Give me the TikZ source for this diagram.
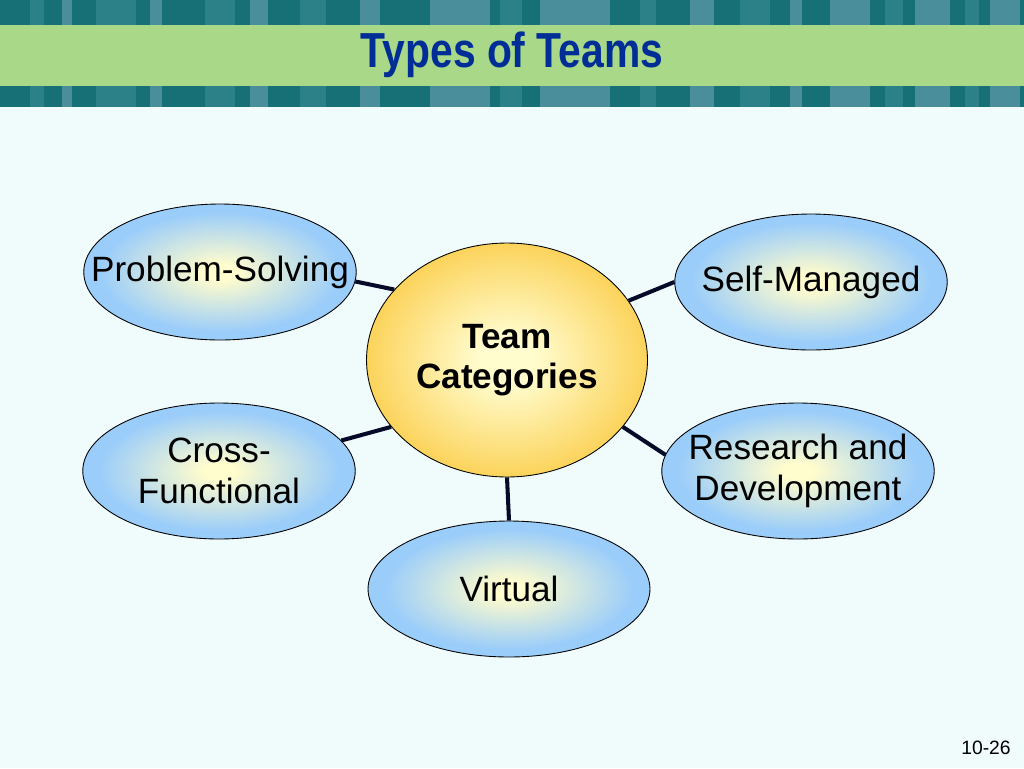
\documentclass[tikz,border=0pt]{standalone}
\usepackage{fontspec}
\setmainfont{Liberation Sans}
\usetikzlibrary{shapes}
\definecolor{paper}{RGB}{240,252,252}
\definecolor{bandgreen}{RGB}{168,216,136}
\definecolor{titleblue}{RGB}{0,45,150}
\definecolor{tealdark}{RGB}{22,112,118}
\definecolor{tealmid}{RGB}{60,140,148}
\definecolor{teallight}{RGB}{110,162,182}
\definecolor{skyblue}{RGB}{155,205,250}
\definecolor{paleyellow}{RGB}{255,252,205}
\definecolor{gold}{RGB}{250,193,40}
\definecolor{navy}{RGB}{5,10,40}
\pgfdeclareradialshading{skyglow}{\pgfpoint{0bp}{0bp}}{color(0bp)=(paleyellow); color(3bp)=(paleyellow); color(22bp)=(skyblue); color(50bp)=(skyblue)}
\pgfdeclareradialshading{sunglow}{\pgfpoint{0bp}{0bp}}{color(0bp)=(paleyellow); color(5bp)=(paleyellow); color(34bp)=(gold); color(50bp)=(gold)}

\begin{document}
\begin{tikzpicture}[x=0.02cm, y=-0.02cm]
	  \tikzstyle{team} = [ellipse, draw=black, line width=0.5pt, shading=skyglow,
	    minimum width=5.45cm, minimum height=2.72cm, inner xsep=-30pt, inner ysep=-12pt, align=center,
	    font=\fontsize{20}{23}\selectfont]
	  \tikzstyle{link} = [line width=2.3pt, draw=navy]
	  \useasboundingbox[fill=paper] (0,0) rectangle (1024,768);
	  % header band
	  \fill[tealdark] (0,0) rectangle (1024,107);
	  \foreach \x/\w/\c in {30/14/tealmid, 62/10/teallight, 96/40/tealmid, 150/12/teallight,
	      205/30/tealmid, 250/18/teallight, 300/26/tealmid, 360/20/teallight, 430/60/teallight,
	      500/22/tealmid, 540/70/teallight, 640/16/tealmid, 690/24/teallight, 740/30/tealmid,
	      790/12/teallight, 830/40/teallight, 885/18/tealmid, 915/35/teallight, 965/14/tealmid, 990/30/teallight}
	    \fill[\c, opacity=0.6] (\x,0) rectangle ++(\w,107);
	  \fill[bandgreen] (0,25) rectangle (1024,86);
	  \node[anchor=base, text=titleblue, font=\fontsize{28}{32}\selectfont\bfseries, xscale=0.83] (title) at (512,67) {Types of Teams};
	  % team categories
	  \node (tc)[ellipse, draw=black, line width=0.5pt, shading=sunglow,
	    minimum width=5.62cm, minimum height=4.68cm, align=center,
	    font=\fontsize{20}{23}\selectfont\bfseries] at (507,360) {Team\\Categories};
	  \node (ps)[team] at (220,272) {Problem-Solving};
	  \node (sm)[team] at (811,282) {Self-Managed};
	  \node (cf)[team] at (219,471) {Cross-\\Functional};
	  \node (rd)[team] at (798,471) {Research and\\Development};
	  \node (vt)[team, minimum width=5.64cm] at (509,589) {Virtual};
	  \foreach \from/\to in {tc.148/ps.-4, tc.26/sm.west, tc.210/cf.14, tc.330/rd.173, tc.south/vt.north}
	    \draw[link] (\from) -- (\to);
	  \node[font=\fontsize{11}{13}\selectfont] (pg) at (986,748) {10-26};
\end{tikzpicture}
\end{document}
